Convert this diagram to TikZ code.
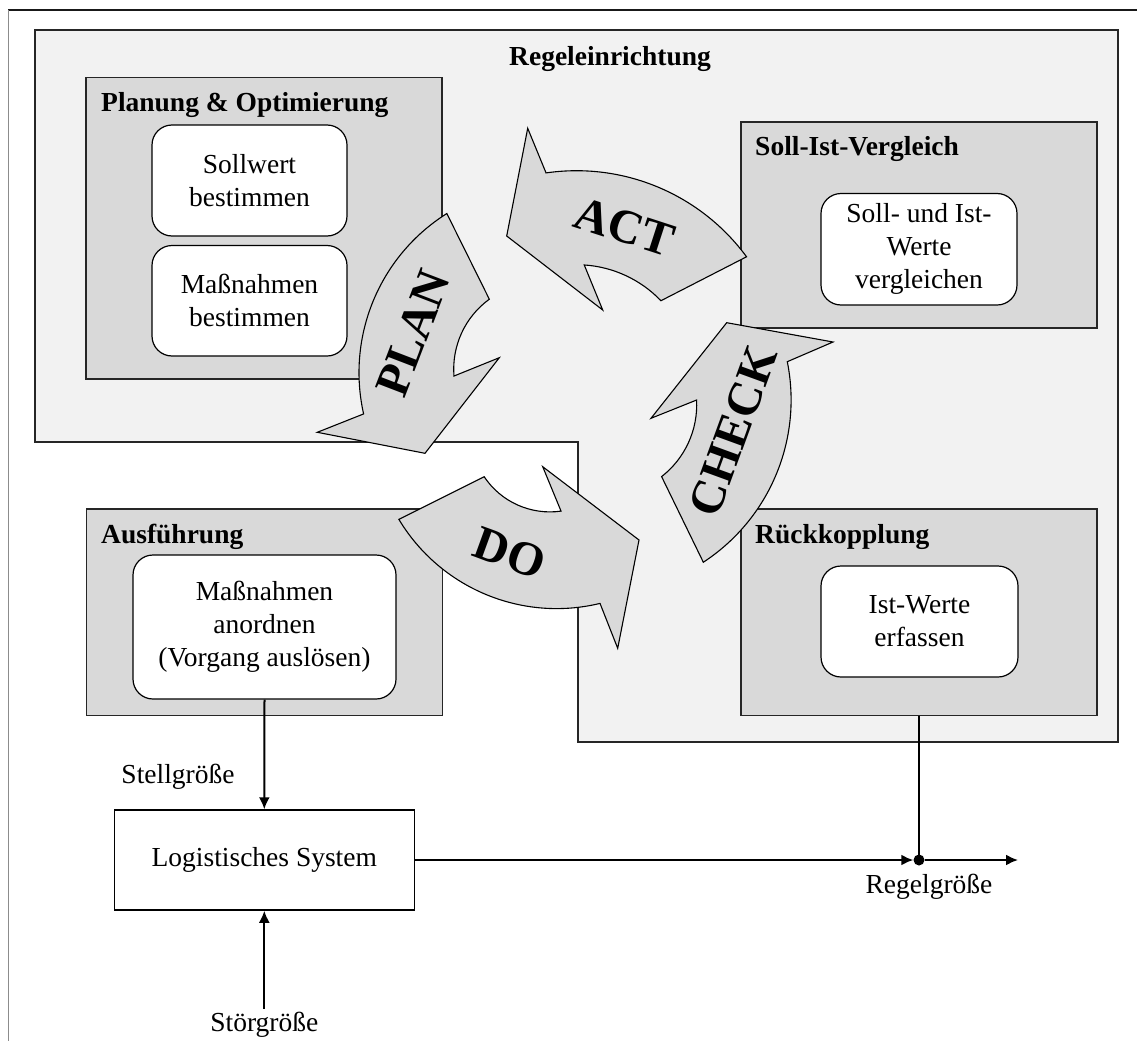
\documentclass[tikz,border=0pt]{standalone}
\usepackage{fontspec}
\setmainfont{Liberation Serif}
\usetikzlibrary{calc,arrows.meta}
\definecolor{panel}{HTML}{F2F2F2}
\definecolor{secgray}{HTML}{D9D9D9}
\begin{document}
\begin{tikzpicture}[x=1pt,y=1pt,
  section/.style={draw=black!85,line width=1.5pt,fill=secgray,rectangle,inner sep=0pt},
  task/.style={draw=black,line width=1.2pt,fill=white,rectangle,rounded corners=20pt,inner sep=0pt,
    align=center,font=\fontsize{27.5}{33}\selectfont},
  sectitle/.style={anchor=base west,inner sep=0pt,font=\bfseries\fontsize{27.5}{33}\selectfont},
  plain/.style={font=\fontsize{27.5}{33}\selectfont},
  cyclearrow/.style={draw=black,line width=1.1pt,fill=secgray,line join=miter},
  biglabel/.style={font=\bfseries\fontsize{48}{48}\selectfont,inner sep=0pt},
  flow/.style={line width=2pt,-{Latex[length=12pt,width=11pt]}},
  wire/.style={line width=2pt}]
\useasboundingbox (0,0) rectangle (1137,-1041);
\fill[white] (0,0) rectangle (1137,-1041);

% page frame
\draw[black!90,line width=1.5pt] (8,-10) -- (1137,-10);
\draw[black!45,line width=1pt] (8,-10) -- (8,-1041);

% controller area
\draw[black!85,line width=1.5pt,fill=panel]
  (35,-30) -- (1118,-30) -- (1118,-742) -- (578,-742) -- (578,-442) -- (35,-442) -- cycle;
\node[anchor=base,inner sep=0pt,font=\bfseries\fontsize{27.5}{33}\selectfont] (regeinr) at (610,-66) {Regeleinrichtung};

% sections
\node[section,minimum width=356pt,minimum height=301.5pt] (planbox) at (264,-228.25) {};
\node[section,minimum width=356pt,minimum height=206pt] (sollbox) at (919,-225) {};
\node[section,minimum width=356pt,minimum height=206.5pt] (ausbox) at (264.5,-612.25) {};
\node[section,minimum width=356pt,minimum height=206.5pt] (rueckbox) at (919,-612.25) {};

\node[sectitle] (plantitle) at (101,-111) {Planung \& Optimierung};
\node[sectitle] (solltitle) at (755,-155) {Soll-Ist-Vergleich};
\node[sectitle] (austitle) at (101,-543) {Ausführung};
\node[sectitle] (ruecktitle) at (755,-543) {Rückkopplung};

% tasks
\node[task,minimum width=195pt,minimum height=111pt] (sollwert) at (249.5,-180.5) {Sollwert\\bestimmen};
\node[task,minimum width=195pt,minimum height=110.5pt] (massbest) at (249.5,-300.75) {Maßnahmen\\bestimmen};
\node[task,minimum width=196pt,minimum height=111.5pt] (vergl) at (919,-249.25) {Soll- und Ist-\\Werte\\vergleichen};
\node[task,minimum width=263pt,minimum height=144pt] (anordnen) at (264.5,-627) {Maßnahmen\\anordnen\\(Vorgang auslösen)};
\node[task,minimum width=197pt,minimum height=111pt] (istwerte) at (919.5,-621.5) {Ist-Werte\\erfassen};

% PDCA cycle arrows
\draw[cyclearrow] ($(576.5,-381.7)+(36.3:211pt)$) arc[start angle=36.3,end angle=98.3,radius=211pt]
  -- (527.7,-128.3) -- (506.7,-236) -- (602.7,-310)
  -- ($(576.5,-381.7)+(86.2:117pt)$) arc[start angle=86.2,end angle=43.8,radius=117pt] -- cycle;
\draw[cyclearrow] ($(547,-372.6)+(122.2:188pt)$) arc[start angle=122.2,end angle=192.7,radius=188pt]
  -- (317.3,-432.3) -- (425,-453.3) -- (499.3,-357.7)
  -- ($(540.1,-369.1)+(184.6:86.4pt)$) arc[start angle=184.6,end angle=126,radius=86.4pt] -- cycle;
\draw[cyclearrow] ($(556.6,-424.6)+(-149:184pt)$) arc[start angle=-149,end angle=-76.35,radius=184pt]
  -- (617.7,-648.3) -- (639,-540) -- (542.7,-466.7)
  -- ($(549.9,-432.9)+(-81.9:79pt)$) arc[start angle=-81.9,end angle=-146.3,radius=79pt] -- cycle;
\draw[cyclearrow] ($(597.1,-399.9)+(-56.8:194pt)$) arc[start angle=-56.8,end angle=11.36,radius=194pt]
  -- (833,-342) -- (726.7,-322.7) -- (651,-418.3)
  -- ($(605.7,-404.8)+(3:91pt)$) arc[start angle=3,end angle=-52.1,radius=91pt] -- cycle;

\node[biglabel,rotate=-18] (act) at (625,-227) {ACT};
\node[biglabel,rotate=69] (plan) at (413,-333) {PLAN};
\node[biglabel,rotate=-20] (do) at (510,-553) {DO};
\node[biglabel,rotate=70] (check) at (733,-431) {CHECK};

% controlled system
\node[draw=black,line width=1.5pt,fill=white,minimum width=300pt,minimum height=100pt,inner sep=0pt,plain]
  (logsys) at (264.3,-860) {Logistisches System};
\node[plain,inner sep=0pt] (stellgr) at (178,-777) {Stellgröße};
\node[plain] (stoergr) at (264.3,-1025) {Störgröße};
\node[circle,fill=black,inner sep=0pt,minimum size=11pt] (junc) at (919,-860) {};
\coordinate (regout) at (1018,-860);
\node[plain,inner sep=0pt] (regelgr) at (929,-887) {Regelgröße};

\draw[flow] (anordnen.south) -- (logsys.north);
\draw[flow] (stoergr.north) -- (logsys.south);
\draw[flow] (logsys.east) -- (junc.west);
\draw[flow] (junc.east) -- (regout);
\draw[wire] (rueckbox.south) -- (junc.center);
\end{tikzpicture}
\end{document}
